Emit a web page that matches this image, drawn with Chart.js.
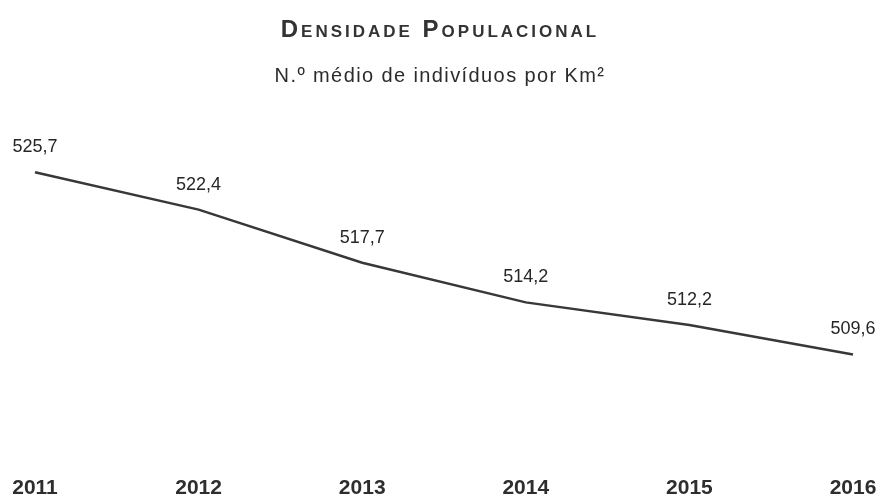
<!DOCTYPE html>
<html>
<head>
<meta charset="utf-8">
<script src="https://cdn.jsdelivr.net/npm/chart.js@4"></script>
<style>
  body { margin: 0; background: #fff; }
</style>
</head>
<body>
<canvas id="myChart" width="880" height="498"></canvas>
<script>
const ctx = document.getElementById("myChart").getContext("2d");

const chartTitle = "Densidade Populacional";
const chartSubtitle = "N.º médio de indivíduos por Km²";

const labels = ["2011", "2012", "2013", "2014", "2015", "2016"];
const densidade = [525.7, 522.4, 517.7, 514.2, 512.2, 509.6];

const fontFamily = '"Liberation Sans", Arial, sans-serif';

// title (small caps) and subtitle drawn by hand: chart.js has no
// font-variant or letter spacing option
const headerText = {
      id: "headerText",
      afterDraw(chart) {
            const c = chart.ctx;
            const cx = chart.width / 2;
            c.save();
            c.textAlign = "center";
            c.textBaseline = "alphabetic";
            c.fillStyle = "#333";
            c.font = "small-caps bold 24px " + fontFamily;
            c.letterSpacing = "3px";
            c.fillText(chartTitle, cx, 37);
            c.fillStyle = "#2b2b2b";
            c.font = "20px " + fontFamily;
            c.letterSpacing = "1.4px";
            c.fillText(chartSubtitle, cx, 82);
            c.restore();
      },
};

// value labels above each point, comma as decimal sign
const valueLabels = {
      id: "valueLabels",
      afterDatasetsDraw(chart) {
            const c = chart.ctx;
            const meta = chart.getDatasetMeta(0);
            c.save();
            c.font = "18px " + fontFamily;
            c.fillStyle = "#262626";
            c.textAlign = "center";
            c.textBaseline = "alphabetic";
            meta.data.forEach((pt, i) => {
                  const txt = densidade[i].toFixed(1).replace(".", ",");
                  c.fillText(txt, pt.x, pt.y - 20);
            });
            c.restore();
      },
};

const data = {
      labels,
      datasets: [{
            data: densidade,
            borderColor: "#383838",
            borderWidth: 2.5,
            pointRadius: 0,
            tension: 0,
            fill: false,
      }],
};

const config = {
      type: "line",
      data: data,
      plugins: [headerText, valueLabels],
      options: {
            responsive: false,
            animation: false,
            layout: {
                  padding: { left: 35, right: 27, top: 101, bottom: -15 },
            },
            plugins: {
                  legend: { display: false },
                  tooltip: { enabled: false },
            },
            scales: {
                  x: {
                        offset: false,
                        grid: { display: false, drawTicks: false },
                        border: { display: false },
                        ticks: {
                              color: "#2e2e2e",
                              padding: 0,
                              maxRotation: 0,
                              // tall line box pushes the year labels down
                              font: { family: fontFamily, size: 21, weight: "bold", lineHeight: 2.38 },
                        },
                  },
                  y: {
                        display: false,
                        min: 500,
                        max: 532,
                  },
            },
      },
};

const myChart = new Chart(ctx, config);
</script>
</body>
</html>
